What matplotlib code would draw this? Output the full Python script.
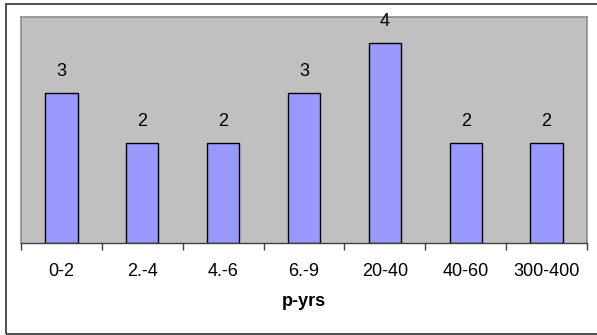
import matplotlib
matplotlib.use("Agg")
import matplotlib.pyplot as plt
from matplotlib.patches import Rectangle
import numpy as np

categories = ["0-2", "2.-4", "4.-6", "6.-9", "20-40", "40-60", "300-400"]
counts = [3, 2, 2, 3, 4, 2, 2]
xlabel = "p-yrs"

W, H = 597, 335
fig = plt.figure(figsize=(W / 100, H / 100), dpi=100)
fig.patch.set_facecolor("white")

# outer chart border (left, top, bottom visible; right beyond edge)
fig.add_artist(Rectangle((6 / W, 1 - 334 / H), (620 - 6) / W, (334 - 4) / H,
                         transform=fig.transFigure, fill=False,
                         edgecolor="#404040", linewidth=1.3))

left, right, top, bottom = 21, 587, 17, 243
ax = fig.add_axes([left / W, 1 - bottom / H, (right - left) / W, (bottom - top) / H])
ax.set_facecolor("#C0C0C0")

FS = 13
x = np.arange(len(categories))
ax.bar(x, counts, width=0.4, color="#9999FF", edgecolor="black", linewidth=1.0, zorder=2)
for xi, v in zip(x, counts):
    ax.text(xi, v + 0.26, str(v), ha="center", va="bottom",
            fontsize=FS, family="Liberation Sans", color="black")

ax.set_xlim(-0.5, len(categories) - 0.5)
ax.set_ylim(0, (bottom - top) / 50)

for s in ["top", "right", "left"]:
    ax.spines[s].set_color("#8C8C8C")
    ax.spines[s].set_linewidth(1.2)
ax.spines["bottom"].set_color("#404040")
ax.spines["bottom"].set_linewidth(1.0)
ax.set_yticks([])

ax.set_xticks(np.arange(len(categories) + 1) - 0.5)
ax.set_xticklabels([])
ax.tick_params(axis="x", direction="out", length=5, width=1, color="#404040")
for xi, c in zip(x, categories):
    ax.text(xi, -28 / 50, c, ha="center", va="center",
            fontsize=FS, family="Liberation Sans", color="black")

fig.text((left + right) / 2 / W, 1 - 301 / H, xlabel, ha="center", va="center",
         fontsize=FS, fontweight="bold", family="Liberation Sans")

fig.savefig("out.png", dpi=100)
